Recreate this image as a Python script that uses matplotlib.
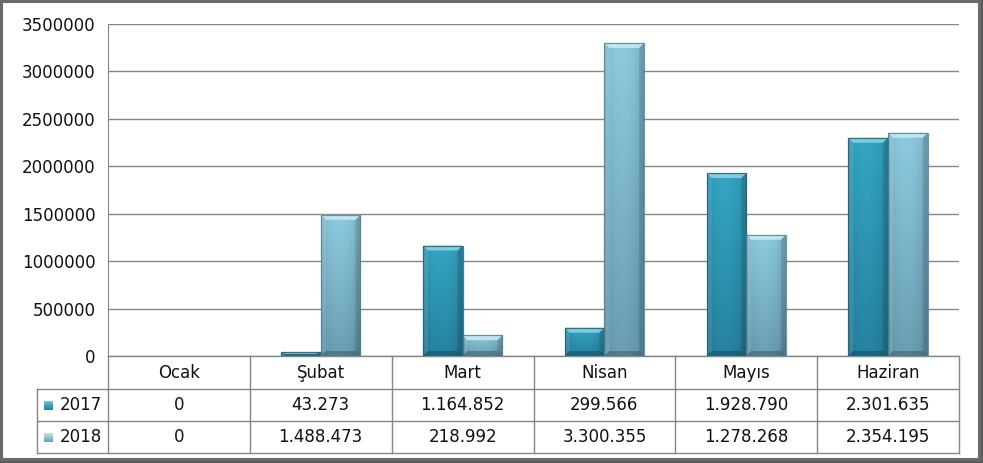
"""
Monthly totals 2017 vs 2018 - Excel style bevelled column chart with data table.
"""

import matplotlib.pyplot as plt
import numpy as np
from matplotlib.colors import LinearSegmentedColormap, to_rgb
from matplotlib.lines import Line2D
from matplotlib.patches import Polygon, Rectangle

MONTHS = ["Ocak", "Şubat", "Mart", "Nisan", "Mayıs", "Haziran"]
SERIES = ["2017", "2018"]
VALUES_2017 = [0, 43273, 1164852, 299566, 1928790, 2301635]
VALUES_2018 = [0, 1488473, 218992, 3300355, 1278268, 2354195]
Y_TICKS = [0, 500000, 1000000, 1500000, 2000000, 2500000, 3000000, 3500000]

W, H = 983, 463
GRID = "#868686"
TXT = "#111111"

# top, bottom, bevel-top, edge colours per series
STYLE = {
    "2017": ("#34a6c4", "#2683a0", "#7fd6ea", "#1c5e72"),
    "2018": ("#8dcbe0", "#6a9fb3", "#c4ebf6", "#4d7f91"),
}

# plot area in pixels (from reference)
PL, PR, PT, PB = 108, 959, 24, 356
ROW1, ROW2, ROW3 = 389, 421, 453
TABLE_L = 37


def fx(x):
    return x / W


def fy(y):
    return 1 - y / H


def fmt_tr(v):
    return f"{v:,}".replace(",", ".")


def bevel_bar(ax, rect, key):
    top_c, bot_c, bev_c, edge_c = STYLE[key]
    x0, y0 = rect.get_x(), rect.get_y()
    w, h = rect.get_width(), rect.get_height()
    if h <= 0:
        return
    x1, y1 = x0 + w, y0 + h

    # body gradient: vertical colour ramp, darkened toward the sides
    ny, nx = 64, 32
    t = np.linspace(0, 1, ny)[:, None]
    u = np.linspace(-1, 1, nx)[None, :]
    c0, c1 = np.array(to_rgb(top_c)), np.array(to_rgb(bot_c))
    img = c0[None, None, :] * (1 - t[..., None]) + c1[None, None, :] * t[..., None]
    shade = 1 - 0.10 * np.abs(u) ** 2.5 - 0.05 * (u > 0) * u
    img = np.clip(img * shade[..., None], 0, 1)
    im = ax.imshow(img, extent=(x0, x1, y0, y1), origin="upper",
                   aspect="auto", zorder=3, interpolation="bilinear")
    im.set_clip_path(rect)

    # bevel sizes in data units (~5 px)
    dx = 5 / ((PR - PL) / 6)
    dy = min(5 * 3500000 / (PB - PT), h / 2)
    ax.add_patch(Polygon([(x0, y1), (x1, y1), (x1 - dx, y1 - dy), (x0 + dx, y1 - dy)],
                         closed=True, fc=bev_c, ec="none", alpha=0.9, zorder=4))
    ax.add_patch(Polygon([(x0, y0), (x0, y1), (x0 + dx, y1 - dy), (x0 + dx, y0 + dy)],
                         closed=True, fc="white", ec="none", alpha=0.10, zorder=4))
    ax.add_patch(Polygon([(x1, y0), (x1, y1), (x1 - dx, y1 - dy), (x1 - dx, y0 + dy)],
                         closed=True, fc="black", ec="none", alpha=0.12, zorder=4))
    ax.add_patch(Polygon([(x0, y0), (x1, y0), (x1 - dx, y0 + dy), (x0 + dx, y0 + dy)],
                         closed=True, fc="black", ec="none", alpha=0.22, zorder=4))
    ax.add_patch(Rectangle((x0, y0), w, h, fc="none", ec=edge_c, lw=0.9,
                           alpha=0.8, zorder=5))


fig = plt.figure(figsize=(W / 100, H / 100), dpi=100)
fig.patch.set_facecolor("white")
plt.rcParams["font.family"] = ["DejaVu Sans"]

ax = fig.add_axes([fx(PL), fy(PB), fx(PR - PL), fy(PT) - fy(PB)])
ax.set_facecolor("white")

x = np.arange(len(MONTHS))
bw = 0.28
bars17 = ax.bar(x - bw / 2, VALUES_2017, bw, color="none", zorder=3)
bars18 = ax.bar(x + bw / 2, VALUES_2018, bw, color="none", zorder=3)
for r in bars17:
    bevel_bar(ax, r, "2017")
for r in bars18:
    bevel_bar(ax, r, "2018")

ax.set_xlim(-0.5, len(MONTHS) - 0.5)
ax.set_ylim(0, 3500000)
ax.set_yticks(Y_TICKS)
ax.set_yticklabels([str(v) for v in Y_TICKS], fontsize=12, color=TXT)
ax.set_xticks([])
ax.tick_params(axis="y", length=0, pad=9)
ax.yaxis.grid(True, color=GRID, lw=1)
ax.set_axisbelow(True)
for s in ["top", "right", "bottom"]:
    ax.spines[s].set_visible(False)
ax.spines["left"].set_color(GRID)

# ---- data table ------------------------------------------------------------
col_w = (PR - PL) / len(MONTHS)


def hline(x0, x1, y):
    fig.add_artist(Line2D([fx(x0), fx(x1)], [fy(y), fy(y)], color=GRID, lw=1))


def vline(x, y0, y1):
    fig.add_artist(Line2D([fx(x), fx(x)], [fy(y0), fy(y1)], color=GRID, lw=1))


hline(PL, PR, PB)
hline(TABLE_L, PR, ROW1)
hline(TABLE_L, PR, ROW2)
hline(TABLE_L, PR, ROW3)
vline(TABLE_L, ROW1, ROW3)
for i in range(len(MONTHS) + 1):
    vline(PL + i * col_w, PB, ROW3)

for i, m in enumerate(MONTHS):
    cx = PL + (i + 0.5) * col_w
    fig.text(fx(cx), fy((PB + ROW1) / 2), m, ha="center", va="center",
             fontsize=12, color=TXT)
    fig.text(fx(cx), fy((ROW1 + ROW2) / 2), fmt_tr(VALUES_2017[i]),
             ha="center", va="center", fontsize=12, color=TXT)
    fig.text(fx(cx), fy((ROW2 + ROW3) / 2), fmt_tr(VALUES_2018[i]),
             ha="center", va="center", fontsize=12, color=TXT)

# legend keys in the row headers
for name, (yt, yb) in zip(SERIES, [(ROW1, ROW2), (ROW2, ROW3)]):
    cy = (yt + yb) / 2
    top_c, bot_c, bev_c, edge_c = STYLE[name]
    kax = fig.add_axes([fx(44), fy(cy + 4.5), fx(9), fy(cy - 4.5) - fy(cy + 4.5)])
    cm = LinearSegmentedColormap.from_list("k", [bev_c, top_c, bot_c])
    kax.imshow(np.linspace(0, 1, 16)[:, None], cmap=cm, aspect="auto")
    kax.set_axis_off()
    fig.text(fx(60), fy(cy), name, ha="left", va="center", fontsize=12, color=TXT)

# ---- chart frame with shadow ------------------------------------------------
fig.add_artist(Rectangle((fx(980), 0), fx(3), 1, transform=fig.transFigure,
                         fc="#5a5a5a", ec="none"))
fig.add_artist(Rectangle((0, 0), 1, fy(460), transform=fig.transFigure,
                         fc="#5a5a5a", ec="none"))
fig.add_artist(Rectangle((fx(1), fy(459)), fx(978), fy(1) - fy(459),
                         transform=fig.transFigure, fc="none", ec="#6a6a6a", lw=2.2))

fig.savefig("out.png", dpi=100, facecolor="white")
